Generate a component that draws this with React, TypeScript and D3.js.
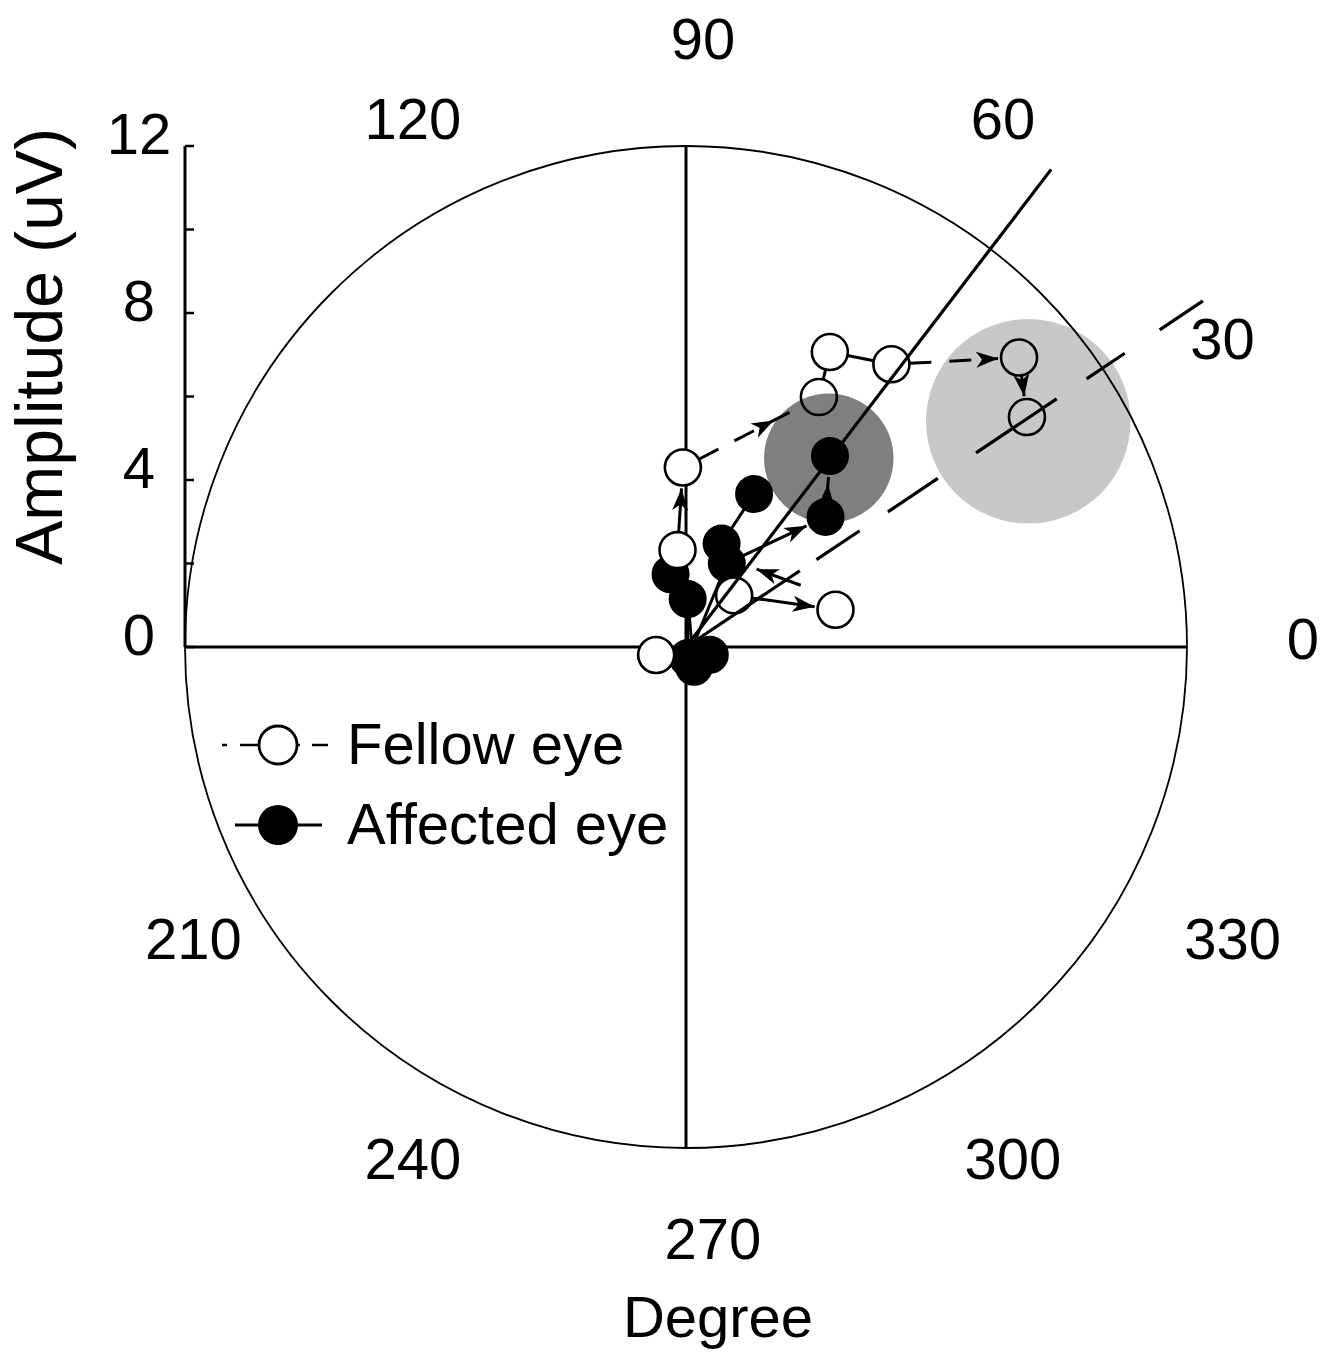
import React, { useEffect } from 'react';
import * as d3 from 'd3';

const W = 1330;
const H = 1355;
const CX = 686;
const CY = 647;
const R = 501;
const FONT = '"Liberation Sans", Arial, Helvetica, sans-serif';

// Fellow eye (open circles): amplitude (uV) and phase (deg)
const fellowAmp = [0.74, 2.33, 4.3, 1.69, 3.69, 6.78, 7.86, 8.37, 10.57, 9.85];
const fellowPhase = [195, 95, 91, 47, 14, 62, 64, 54, 41, 34];

// Affected eye (filled circles)
const affectedAmp = [0.27, 0.51, 0.6, 1.78, 1.15, 2.62, 2.23, 4.01, 4.57, 5.73];
const affectedPhase = [280, 292, 342, 102, 88, 71, 64, 66, 43, 53];

// links between points: [from, to, dashed, arrow position (0 none, 1 end)]
const fellowLinks = [
  [1, 2, 0, 1],
  [2, 5, 1, 0.72],
  [5, 6, 0, 0],
  [6, 7, 0, 0],
  [7, 8, 1, 1],
  [8, 9, 0, 1],
  [3, 4, 0, 1],
];
const affectedLinks = [
  [0, 4, 0, 0],
  [1, 4, 0, 0],
  [4, 3, 0, 0],
  [0, 6, 0, 0],
  [6, 5, 0, 0],
  [5, 7, 0, 0],
  [6, 8, 0, 1],
  [8, 9, 1, 0.6],
];
// a lone arrow without markers (amp, phase)
const strayAmp = [3.12, 2.49];
const strayPhase = [28.3, 49.3];

// mean vectors
const meanPhase = [33.8, 52.6]; // fellow, affected
const meanLength = [14.9, 14.4];

// confidence circles: [amp, phase, radius]
const ciAmp = [9.82, 5.67];
const ciPhase = [33.4, 52.9];
const ciRadius = [2.45, 1.55];
const ciColor = ['#c8c8c8', '#7f7f7f'];

const angleTicks = [0, 30, 60, 90, 120, 210, 240, 270, 300, 330];
const ampTicks = [0, 2, 4, 6, 8, 10, 12];
const ampLabels = [0, 4, 8, 12];

const rScale = d3.scaleLinear().domain([0, 12]).range([0, R]);
const toXY = (amp: number, deg: number): [number, number] => {
  const a = (deg * Math.PI) / 180;
  return [CX + rScale(amp) * Math.cos(a), CY - rScale(amp) * Math.sin(a)];
};

const PR = 18;

function arrowHead(tip: [number, number], ux: number, uy: number) {
  const L = 22;
  const hw = 8;
  const bx = tip[0] - ux * L;
  const by = tip[1] - uy * L;
  const nx = -uy;
  const ny = ux;
  return `M${tip[0]},${tip[1]}L${bx + nx * hw},${by + ny * hw}L${bx + ux * 6},${by + uy * 6}L${bx - nx * hw},${by - ny * hw}Z`;
}

function Link({ p, q, dashed, at, r0, r1 }: any) {
  const dx = q[0] - p[0];
  const dy = q[1] - p[1];
  const len = Math.hypot(dx, dy);
  const ux = dx / len;
  const uy = dy / len;
  const s: [number, number] = [p[0] + ux * r0, p[1] + uy * r0];
  const pad = at === 1 ? 3 : 0;
  const e: [number, number] = [q[0] - ux * (r1 + pad), q[1] - uy * (r1 + pad)];
  let tip: [number, number] | null = null;
  if (at > 0) {
    tip = [s[0] + (e[0] - s[0]) * at, s[1] + (e[1] - s[1]) * at];
  }
  return (
    <g>
      <line
        x1={s[0]}
        y1={s[1]}
        x2={e[0]}
        y2={e[1]}
        stroke="#000"
        strokeWidth={3}
        strokeDasharray={dashed ? '22 18' : undefined}
      />
      {tip && <path d={arrowHead(tip, ux, uy)} fill="#000" />}
    </g>
  );
}

export default function App() {
  useEffect(() => {
    document.body.style.margin = '0';
  }, []);

  const fPts = fellowAmp.map((a, i) => toXY(a, fellowPhase[i]));
  const aPts = affectedAmp.map((a, i) => toXY(a, affectedPhase[i]));

  const axisX = CX - R;

  return (
    <svg width={W} height={H} style={{ display: 'block', background: '#fff' }} fontFamily={FONT}>
      {/* outer circle */}
      <circle cx={CX} cy={CY} r={rScale(12)} fill="none" stroke="#000" strokeWidth={1.8} />
      {/* cross axes */}
      <line x1={CX - R} y1={CY} x2={CX + R} y2={CY} stroke="#000" strokeWidth={3} />
      <line x1={CX} y1={CY - R} x2={CX} y2={CY + R} stroke="#000" strokeWidth={3} />

      {/* amplitude axis */}
      <line x1={axisX} y1={CY - rScale(12)} x2={axisX} y2={CY} stroke="#000" strokeWidth={3} />
      {ampTicks.map((t) => (
        <line key={t} x1={axisX} x2={axisX + 9} y1={CY - rScale(t)} y2={CY - rScale(t)} stroke="#000" strokeWidth={2.5} />
      ))}
      {ampLabels.map((t) => (
        <text key={t} x={139} y={CY - rScale(t) + 8} fontSize={58} textAnchor="middle" fill="#000">
          {t}
        </text>
      ))}
      <text
        transform={`translate(62,${CY - rScale(7.2)}) rotate(-90)`}
        fontSize={66}
        textAnchor="middle"
        fill="#000"
      >
        Amplitude (uV)
      </text>

      {/* angle labels */}
      {angleTicks.map((d) => {
        const a = (d * Math.PI) / 180;
        const shift = Math.sin(a) < -0.1 || Math.cos(a) < -0.45 ? 10 : 0;
        const x = CX + 17 + shift + 600 * Math.cos(a);
        const y = CY - 9 - 600 * Math.sin(a);
        return (
          <text key={d} x={x} y={y + 21} fontSize={58} textAnchor="middle" fill="#000">
            {d}
          </text>
        );
      })}
      <text x={718} y={1337} fontSize={58} textAnchor="middle" fill="#000">
        Degree
      </text>

      {/* links */}
      {fellowLinks.map(([i, j, dsh, at], k) => (
        <Link key={'f' + k} p={fPts[i]} q={fPts[j]} dashed={dsh} at={at} r0={PR} r1={PR} />
      ))}
      {affectedLinks.map(([i, j, dsh, at], k) => (
        <Link key={'a' + k} p={aPts[i]} q={aPts[j]} dashed={dsh} at={at} r0={PR} r1={PR} />
      ))}
      <Link p={toXY(strayAmp[0], strayPhase[0])} q={toXY(strayAmp[1], strayPhase[1])} dashed={0} at={1} r0={0} r1={0} />

      {/* points */}
      {aPts.map((p, i) => (
        <circle key={'ap' + i} cx={p[0]} cy={p[1]} r={PR} fill="#000" stroke="#000" strokeWidth={2} />
      ))}
      {fPts.map((p, i) => (
        <circle key={'fp' + i} cx={p[0]} cy={p[1]} r={PR} fill="#fff" stroke="#000" strokeWidth={2.6} />
      ))}

      {/* confidence circles */}
      {ciAmp.map((a, i) => {
        const c = toXY(a, ciPhase[i]);
        return (
          <circle
            key={'ci' + i}
            cx={c[0]}
            cy={c[1]}
            r={rScale(ciRadius[i])}
            fill={ciColor[i]}
            style={{ mixBlendMode: 'multiply' }}
          />
        );
      })}

      {/* mean lines */}
      {(() => {
        const e0 = toXY(meanLength[0], meanPhase[0]);
        const e1 = toXY(meanLength[1], meanPhase[1]);
        return (
          <g>
            <line
              x1={CX}
              y1={CY}
              x2={e0[0]}
              y2={e0[1]}
              stroke="#000"
              strokeWidth={3.2}
              strokeDasharray="137 20 52 34 60 46 97 36 46 42 60"
            />
            <line x1={CX} y1={CY} x2={e1[0]} y2={e1[1]} stroke="#000" strokeWidth={3.2} />
          </g>
        );
      })()}

      {/* legend */}
      <line x1={222} x2={328} y1={745} y2={745} stroke="#000" strokeWidth={2.6} strokeDasharray="5 13 60 12 16" />
      <circle cx={278} cy={745} r={19} fill="#fff" stroke="#000" strokeWidth={2.8} />
      <text x={347} y={764} fontSize={58} fill="#000">
        Fellow eye
      </text>
      <line x1={235} x2={322} y1={825} y2={825} stroke="#000" strokeWidth={3} />
      <circle cx={278} cy={825} r={20} fill="#000" />
      <text x={347} y={844} fontSize={58} fill="#000">
        Affected eye
      </text>
    </svg>
  );
}
